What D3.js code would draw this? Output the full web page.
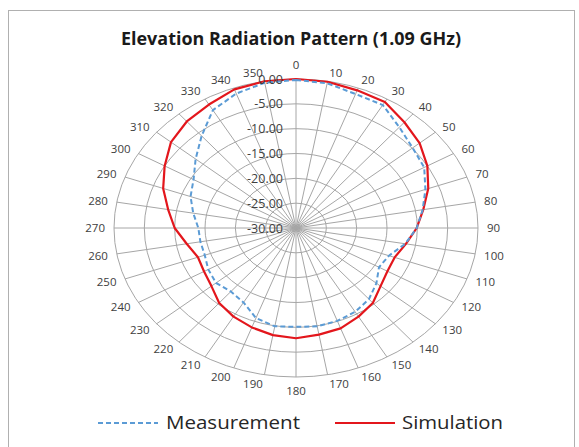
<!DOCTYPE html>
<html><head><meta charset="utf-8">
<script src="https://cdn.jsdelivr.net/npm/d3@7"></script>
<style>body{margin:0;background:#fff} svg{display:block}</style>
</head><body><svg id="c" width="579" height="447"></svg>
<script>
// ---- data ----
const categories = [0,10,20,30,40,50,60,70,80,90,100,110,120,130,140,150,160,170,
                    180,190,200,210,220,230,240,250,260,270,280,290,300,310,320,330,340,350];
const measurement = [-0.2,-0.4,-1.3,-1.4,-3.5,-4.9,-5.6,-7.3,-8.8,-10.1,-11.7,-13.7,
                     -14.2,-12.7,-11.3,-10.5,-10.1,-9.9,-10.1,-9.9,-10.7,-12.7,-13.3,-12.8,
                     -13.3,-14.0,-14.0,-13.9,-12.8,-11.5,-10.5,-8.4,-5.8,-2.6,-1.2,-0.3];
const simulation = [0.0,-0.1,-0.5,-0.7,-2.2,-3.4,-5.0,-6.8,-8.7,-10.1,-11.6,-12.7,
                    -12.6,-11.8,-10.3,-9.4,-8.5,-8.2,-7.8,-8.1,-8.7,-9.4,-10.3,-11.8,
                    -12.5,-12.8,-11.7,-10.0,-8.6,-6.7,-5.0,-3.1,-2.0,-1.3,-0.3,0.0];
const radialTicks = [-30,-25,-20,-15,-10,-5,0];
const radialTickLabels = ["-30.00","-25.00","-20.00","-15.00","-10.00","-5.00","0.00"];
const titleText = "Elevation Radiation Pattern (1.09 GHz)";
const seriesNames = ["Measurement","Simulation"];

// ---- layout ----
const cx = 296, cy = 228, rx = 182, ry = 149;
const svg = d3.select("#c");
const rScale = d3.scaleLinear().domain([-30, 0]).range([0, 1]).clamp(true);
const aScale = d3.scaleLinear().domain([0, 360]).range([0, 2 * Math.PI]);
const px = (deg, v) => cx + rx * rScale(v) * Math.sin(aScale(deg));
const py = (deg, v) => cy - ry * rScale(v) * Math.cos(aScale(deg));

const FONT = "'Open Sans', 'DejaVu Sans', sans-serif";
const gridColor = "#a6a6a6";
const textColor = "#404040";

// chart frame
svg.append("rect").attr("x", 8.5).attr("y", 10.5).attr("width", 566).attr("height", 450)
  .attr("fill", "none").attr("stroke", "#b0b0b0").attr("stroke-width", 1);

// title
svg.append("text").attr("x", 291).attr("y", 45).attr("text-anchor", "middle")
  .attr("font-family", FONT).attr("font-weight", "bold").attr("font-size", 17)
  .attr("fill", "#1a1a1a").attr("textLength", 340).attr("lengthAdjust", "spacingAndGlyphs")
  .text(titleText);

// grid rings
const grid = svg.append("g");
grid.selectAll("ellipse").data(radialTicks.filter(v => v > -30)).join("ellipse")
  .attr("cx", cx).attr("cy", cy)
  .attr("rx", v => rx * rScale(v)).attr("ry", v => ry * rScale(v))
  .attr("fill", "none").attr("stroke", gridColor).attr("stroke-width", 1);

// spokes
grid.selectAll("line").data(categories).join("line")
  .attr("x1", cx).attr("y1", cy)
  .attr("x2", d => px(d, 0)).attr("y2", d => py(d, 0))
  .attr("stroke", gridColor).attr("stroke-width", 1);

// angular labels
svg.append("g").selectAll("text").data(categories).join("text")
  .attr("font-family", FONT).attr("font-size", 11.5).attr("fill", textColor)
  .attr("x", d => px(d, 0) + 9 * Math.sin(aScale(d)))
  .attr("y", d => {
    const c = Math.cos(aScale(d));
    const extra = Math.abs(Math.sin(aScale(d))) < 0.01 ? 5 : 0;
    return py(d, 0) - (9 + extra) * c;
  })
  .attr("dy", "0.36em")
  .attr("text-anchor", d => {
    const s = Math.sin(aScale(d));
    return Math.abs(s) < 0.01 ? "middle" : (s > 0 ? "start" : "end");
  })
  .text(d => d);

// series
const line = d3.line()
  .x((v, i) => px(categories[i], v))
  .y((v, i) => py(categories[i], v))
  .curve(d3.curveLinearClosed);

svg.append("path").datum(simulation).attr("d", line)
  .attr("fill", "none").attr("stroke", "#e3161c").attr("stroke-width", 2.2)
  .attr("stroke-linejoin", "round");
svg.append("path").datum(measurement).attr("d", line)
  .attr("fill", "none").attr("stroke", "#5b9bd5").attr("stroke-width", 2)
  .attr("stroke-dasharray", "5,3");

// radial labels (drawn over)
svg.append("g").selectAll("text").data(radialTicks).join("text")
  .attr("font-family", FONT).attr("font-size", 12.5).attr("fill", textColor)
  .attr("x", 283).attr("y", v => py(0, v)).attr("dy", "0.36em")
  .attr("text-anchor", "end")
  .text((v, i) => radialTickLabels[i]);

// legend
const lg = svg.append("g").attr("font-family", FONT).attr("font-size", 18).attr("fill", "#262626");
lg.append("line").attr("x1", 98).attr("x2", 158).attr("y1", 423).attr("y2", 423)
  .attr("stroke", "#5b9bd5").attr("stroke-width", 2).attr("stroke-dasharray", "5,3");
lg.append("text").attr("x", 166).attr("y", 429).attr("textLength", 134)
  .attr("lengthAdjust", "spacingAndGlyphs").text(seriesNames[0]);
lg.append("line").attr("x1", 335).attr("x2", 395).attr("y1", 423).attr("y2", 423)
  .attr("stroke", "#e3161c").attr("stroke-width", 2.2);
lg.append("text").attr("x", 402).attr("y", 429).attr("textLength", 101)
  .attr("lengthAdjust", "spacingAndGlyphs").text(seriesNames[1]);
</script></body></html>
